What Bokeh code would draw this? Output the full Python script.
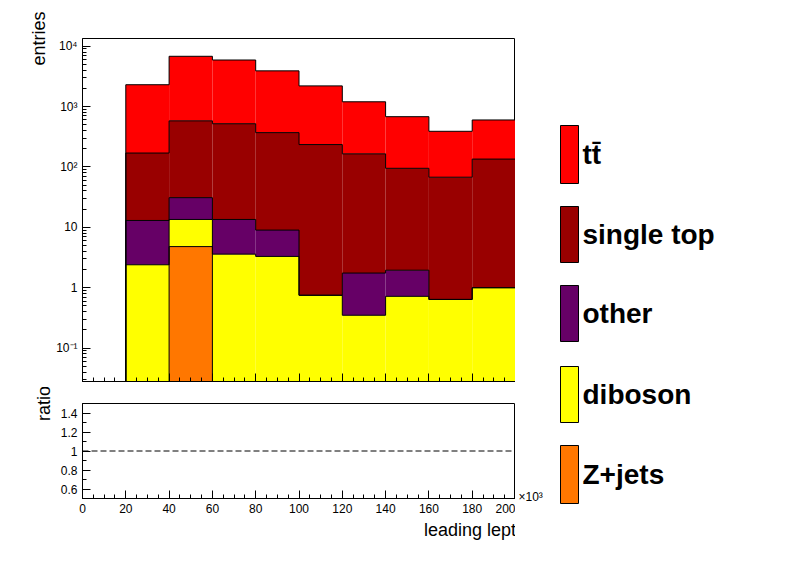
import numpy as np
from bokeh.plotting import figure
from bokeh.layouts import row, column
from bokeh.models import Range1d, FixedTicker, CustomJSTickFormatter
from bokeh.embed import file_html
from bokeh.resources import INLINE

# bins in units of 10^3 MeV
edges = [20, 40, 60, 80, 100, 120, 140, 160, 180, 200]
zjets = [0, 4.8, 0, 0, 0, 0, 0, 0, 0]
diboson = [2.4, 8.7, 3.6, 3.3, 0.75, 0.35, 0.72, 0.64, 1.0]
other = [10.6, 17.5, 9.9, 5.7, 0, 1.4, 1.23, 0, 0]
single_top = [157, 549, 506, 361, 234, 163, 93, 67, 134]
ttbar = [2130, 6220, 5380, 3530, 1965, 1035, 585, 322, 465]

names = ["Z+jets", "diboson", "other", "single top", "tt\u0304"]
colors = ["#ff7700", "#ffff00", "#660066", "#990000", "#ff0000"]
series = [zjets, diboson, other, single_top, ttbar]

YMIN, YMAX = 0.028, 13400
FONT = "Liberation Sans"

top = figure(width=515, height=387, y_axis_type="log", x_range=Range1d(0, 200),
             y_range=Range1d(YMIN, YMAX), output_backend="svg", toolbar_location=None,
             min_border_left=82, min_border_right=0, min_border_top=38, min_border_bottom=6)

cum = np.zeros(9)
for name, col, s in zip(names, colors, series):
    s = np.array(s, dtype=float)
    new = cum + s
    mask = s > 0
    l = np.array(edges[:-1])[mask]
    r = np.array(edges[1:])[mask]
    bot = np.where(cum > 0, cum, YMIN / 2)[mask]
    top.quad(left=l, right=r, bottom=bot, top=new[mask], fill_color=col, line_color=None)
    cum = new

# outlines of cumulative histograms
cum = np.zeros(9)
for name, s in zip(names, series):
    cum = cum + np.array(s, dtype=float)
    if name == "Z+jets":
        top.line([40, 40, 60, 60], [YMIN / 2, cum[1], cum[1], YMIN / 2], line_color="black", line_width=1)
        continue
    xs, ys = [edges[0]], [YMIN / 2]
    for i in range(9):
        xs += [edges[i], edges[i + 1]]
        ys += [cum[i], cum[i]]
    xs.append(edges[-1]); ys.append(YMIN / 2)
    top.line(xs, ys, line_color="black", line_width=1)

top.xaxis.ticker = FixedTicker(ticks=list(range(0, 201, 20)), minor_ticks=list(range(0, 201, 5)))
top.xaxis.formatter = CustomJSTickFormatter(code="return '';")
top.yaxis.ticker = FixedTicker(ticks=[0.1, 1, 10, 100, 1000, 10000],
                               minor_ticks=[m * 10.0 ** e for e in range(-2, 5) for m in range(2, 10)])
top.yaxis.formatter = CustomJSTickFormatter(code="""
const m = {'0.1':'10\u207b\u00b9','1':'1','10':'10','100':'10\u00b2','1000':'10\u00b3','10000':'10\u2074'};
return m[String(tick)] || '';""")
top.yaxis.axis_label = "entries"

bot_fig = figure(width=515, height=177, x_range=Range1d(0, 200), y_range=Range1d(0.5, 1.5),
                 output_backend="svg", toolbar_location=None,
                 min_border_left=82, min_border_right=0, min_border_top=16, min_border_bottom=66)
bot_fig.line([0, 200], [1, 1], line_color="black", line_dash="6 3", line_width=1)
bot_fig.xaxis.ticker = FixedTicker(ticks=list(range(0, 201, 20)), minor_ticks=list(range(0, 201, 5)))
bot_fig.yaxis.ticker = FixedTicker(ticks=[0.6, 0.8, 1, 1.2, 1.4],
                                   minor_ticks=[0.5, 0.7, 0.9, 1.1, 1.3, 1.5])
bot_fig.yaxis.axis_label = "ratio"
bot_fig.xaxis.axis_label = "leading lepton p\u209c / MeV"

for f in (top, bot_fig):
    f.grid.visible = False
    f.outline_line_color = "black"
    f.background_fill_color = "white"
    for ax in (f.xaxis, f.yaxis):
        ax.major_tick_in = 8
        ax.major_tick_out = 0
        ax.minor_tick_in = 4
        ax.minor_tick_out = 0
        ax.axis_line_color = "black"
        ax.major_tick_line_color = "black"
        ax.minor_tick_line_color = "black"
        ax.major_label_text_color = "black"
        ax.axis_label_text_color = "black"
        ax.major_label_text_font = FONT
        ax.major_label_text_font_size = "12px"
        ax.axis_label_text_font = FONT
        ax.axis_label_text_font_size = "18px"
        ax.axis_label_text_font_style = "normal"
        ax.axis_label_align = "end"
        ax.axis_label_standoff = 4

# legend panel (also holds the x10^3 exponent next to the ratio axis)
leg = figure(width=265, height=564, x_range=Range1d(0, 265), y_range=Range1d(564, 0),
             output_backend="svg", toolbar_location=None, min_border=0)
leg.axis.visible = False
leg.grid.visible = False
leg.outline_line_color = None
leg_top = [445, 366, 285, 206, 125]
leg_bot = [503, 422, 341, 262, 183]
leg.quad(left=45, right=63, top=leg_top, bottom=leg_bot, fill_color=colors, line_color="black")
leg.text(x=67, y=[(a + b) / 2 for a, b in zip(leg_top, leg_bot)], text=names,
         text_font_size="28px", text_font_style="bold", text_baseline="middle",
         text_font={"value": FONT})
leg.text(x=[3], y=[496], text=["\u00d710\u00b3"], text_font_size="12px", text_baseline="middle",
         text_font={"value": FONT})

p = row(column(top, bot_fig), leg)
open("out.html", "w").write(file_html(p, INLINE))
